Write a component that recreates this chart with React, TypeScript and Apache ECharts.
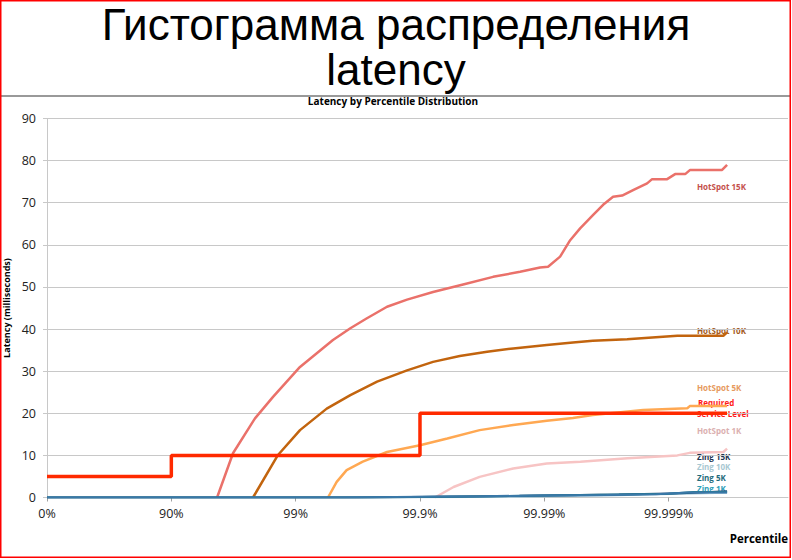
import React, { useEffect, useRef } from "react";
import * as echarts from "echarts";

// X positions are given in "nines": percentile = 100 * (1 - 10^-nines)
const xTickLabels = ["0%", "90%", "99%", "99.9%", "99.99%", "99.999%"];

const hotspot15kNines = [1.368, 1.496, 1.673, 1.818, 2.035, 2.3, 2.44, 2.57, 2.735, 2.896, 3.105, 3.347, 3.588, 3.805, 3.966, 4.03, 4.127, 4.208, 4.288, 4.393, 4.473, 4.553, 4.626, 4.714, 4.827, 4.867, 4.988, 5.052, 5.133, 5.173, 5.43, 5.47];
const hotspot15kMs = [0, 10.5, 18.8, 23.9, 31.0, 37.4, 40.2, 42.5, 45.3, 47.0, 48.8, 50.6, 52.4, 53.6, 54.6, 54.8, 57.2, 61.1, 63.9, 67.1, 69.5, 71.4, 71.7, 73.0, 74.6, 75.6, 75.6, 76.8, 76.8, 77.8, 77.8, 79.0];

const hotspot10kNines = [1.657, 1.858, 2.035, 2.25, 2.44, 2.655, 2.896, 3.105, 3.32, 3.54, 3.75, 4.02, 4.23, 4.39, 4.666, 5.07, 5.44, 5.47];
const hotspot10kMs = [0, 10.1, 16.0, 21.1, 24.3, 27.5, 30.2, 32.2, 33.6, 34.6, 35.4, 36.2, 36.8, 37.2, 37.6, 38.4, 38.4, 39.2];

const hotspot5kNines = [2.26, 2.33, 2.41, 2.54, 2.735, 3.0, 3.22, 3.48, 3.75, 4.02, 4.23, 4.39, 4.795, 5.15, 5.17, 5.47];
const hotspot5kMs = [0, 3.7, 6.5, 8.5, 10.8, 12.4, 14.0, 16.0, 17.2, 18.2, 18.9, 19.6, 20.8, 21.2, 21.7, 21.7];

const hotspot1kNines = [3.12, 3.27, 3.48, 3.75, 4.02, 4.29, 4.67, 5.07, 5.17, 5.44, 5.47];
const hotspot1kMs = [0, 2.5, 4.9, 6.9, 8.1, 8.5, 9.3, 10.0, 10.6, 10.8, 11.6];

const requiredNines = [0, 1, 3, 5.47];
const requiredMs = [5, 10, 20, 20];

const zing15kNines = [0, 2.5, 3.8, 4.6, 5.1, 5.47];
const zing15kMs = [0, 0, 0.4, 0.7, 1.0, 1.5];
const zing10kNines = [0, 2.8, 3.8, 4.5, 5.1, 5.47];
const zing10kMs = [0, 0, 0.2, 0.5, 0.9, 1.1];
const zing5kNines = [0, 2.6, 3.6, 4.3, 5.0, 5.2, 5.47];
const zing5kMs = [0, 0, 0.3, 0.6, 0.9, 1.3, 1.3];
const zing1kNines = [0, 2.4, 3.0, 3.5, 4.0, 4.5, 4.9, 5.15, 5.47];
const zing1kMs = [0, 0, 0.2, 0.3, 0.5, 0.6, 0.8, 1.2, 1.2];

const zip = (xs: number[], ys: number[]) => xs.map((x, i) => [x, ys[i]]);

const labelFont = "Open Sans";

export default function App() {
  const ref = useRef<HTMLDivElement>(null);

  useEffect(() => {
    if (!ref.current) return;
    const chart = echarts.init(ref.current, undefined, { renderer: "svg" });

    const line = (name: string, xs: number[], ys: number[], color: string, width: number, extra: any = {}) => ({
      name,
      type: "line",
      data: zip(xs, ys),
      showSymbol: false,
      symbol: "none",
      lineStyle: { color, width },
      itemStyle: { color },
      silent: true,
      ...extra,
    });

    const seriesLabel = (text: string, x: number, y: number, color: string) => ({
      type: "text",
      x,
      y,
      style: {
        text,
        fill: color,
        font: `bold 8px "${labelFont}"`,
        textAlign: "left",
        textVerticalAlign: "middle",
      },
    });

    chart.setOption({
      animation: false,
      backgroundColor: "#ffffff",
      grid: { left: 47, right: 4, top: 118.5, bottom: 62.5, containLabel: false, outerBoundsMode: "none" },
      xAxis: {
        type: "value",
        min: 0,
        max: 5.96,
        interval: 1,
        axisLine: { show: true, onZero: true, lineStyle: { color: "#c8c8c8", width: 1 } },
        axisTick: { show: true, length: 4, lineStyle: { color: "#a0a0a0" } },
        splitLine: { show: false },
        axisLabel: {
          margin: 9,
          fontFamily: labelFont,
          fontSize: 12.5,
          color: "#222",
          showMaxLabel: false,
          formatter: (v: number) => xTickLabels[Math.round(v)] ?? "",
        },
      },
      yAxis: {
        type: "value",
        min: 0,
        max: 90,
        interval: 10,
        name: "Latency (milliseconds)",
        nameLocation: "middle",
        nameGap: 33,
        nameTextStyle: { fontFamily: labelFont, fontWeight: "bold", fontSize: 9, color: "#000" },
        axisLine: { show: true, lineStyle: { color: "#c8c8c8", width: 1 } },
        axisTick: { show: true, length: 4, lineStyle: { color: "#c8c8c8" } },
        splitLine: { show: true, lineStyle: { color: "#c8c8c8", width: 1 } },
        axisLabel: { margin: 11, fontFamily: labelFont, fontSize: 12.5, color: "#222" },
      },
      series: [
        line("HotSpot 15K", hotspot15kNines, hotspot15kMs, "#ea716a", 2.5),
        line("HotSpot 10K", hotspot10kNines, hotspot10kMs, "#c2640e", 2.5),
        line("HotSpot 5K", hotspot5kNines, hotspot5kMs, "#ffa852", 2.5),
        line("HotSpot 1K", hotspot1kNines, hotspot1kMs, "#f7c4c4", 2.5),
        line("Required Service Level", requiredNines, requiredMs, "#ff2a00", 3.5, { step: "end" }),
        line("Zing 10K", zing10kNines, zing10kMs, "#9fc4d8", 2),
        line("Zing 15K", zing15kNines, zing15kMs, "#1f4a78", 2),
        line("Zing 5K", zing5kNines, zing5kMs, "#23798c", 2),
        line("Zing 1K", zing1kNines, zing1kMs, "#3a78a8", 2),
      ],
      graphic: [
        {
          type: "rect",
          shape: { x: 0.75, y: 0.75, width: 789.5, height: 556.5 },
          style: { fill: "none", stroke: "#ff0000", lineWidth: 1.5 },
          z: 100,
        },
        {
          type: "line",
          shape: { x1: 1, y1: 96, x2: 790, y2: 96 },
          style: { stroke: "#999999", lineWidth: 2 },
        },
        {
          type: "text",
          x: 396,
          y: 46.5,
          style: {
            text: "Гистограмма распределения\nlatency",
            fill: "#000",
            font: '44px "Liberation Sans"',
            lineHeight: 45,
            textAlign: "center",
            textVerticalAlign: "middle",
          },
        },
        {
          type: "text",
          x: 393,
          y: 101,
          style: {
            text: "Latency by Percentile Distribution",
            fill: "#000",
            font: `bold 10px "${labelFont}"`,
            textAlign: "center",
            textVerticalAlign: "middle",
          },
        },
        {
          type: "text",
          x: 788,
          y: 538,
          style: {
            text: "Percentile",
            fill: "#000",
            font: `bold 11.5px "${labelFont}"`,
            textAlign: "right",
            textVerticalAlign: "middle",
          },
        },
        seriesLabel("HotSpot 15K", 697, 186.5, "#c4504b"),
        seriesLabel("HotSpot 10K", 697, 330, "#a3591a"),
        seriesLabel("HotSpot 5K", 697, 387, "#e69a5e"),
        seriesLabel("Required", 698, 402.5, "#ff1a1a"),
        seriesLabel("Service Level", 697, 413, "#ff1a1a"),
        seriesLabel("HotSpot 1K", 697, 430, "#dbb0b0"),
        seriesLabel("Zing 15K", 697, 456, "#1c3450"),
        seriesLabel("Zing 10K", 697, 466.5, "#a8c8d2"),
        seriesLabel("Zing 5K", 697, 477.5, "#1f6c7c"),
        seriesLabel("Zing 1K", 697, 488, "#2fa0b8"),
      ],
    });

    return () => chart.dispose();
  }, []);

  return (
    <div
      ref={ref}
      style={{ position: "absolute", left: 0, top: 0, width: 792, height: 560, background: "#fff" }}
    />
  );
}
